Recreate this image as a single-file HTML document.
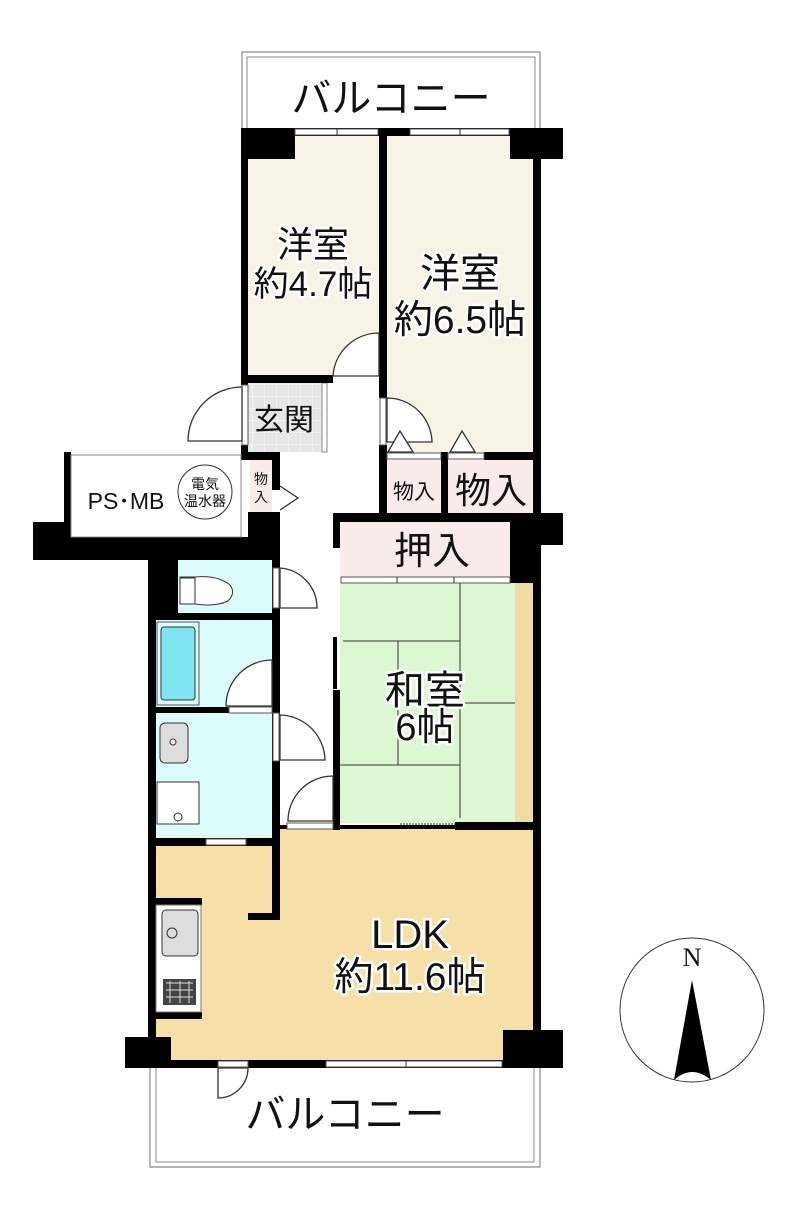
<!DOCTYPE html>
<html><head><meta charset="utf-8"><style>
html,body{margin:0;padding:0;background:#fff}
svg{display:block}
text{font-family:"Liberation Sans","Noto Sans CJK JP",sans-serif;fill:#111}
.l{paint-order:stroke;stroke:#fff;stroke-width:5px;stroke-linejoin:round}
</style></head><body>
<svg width="800" height="1220" viewBox="0 0 800 1220" xmlns="http://www.w3.org/2000/svg">
<defs>
<pattern id="tile" width="12" height="12" patternUnits="userSpaceOnUse"><rect width="12" height="12" fill="#e6e6e6"/><path d="M0 0H12M0 0V12" stroke="#fff" stroke-width="1"/></pattern>
</defs>
<rect x="242" y="52" width="298" height="80" fill="none" stroke="#888" stroke-width="1.2"/>
<rect x="247" y="57" width="288" height="75" fill="none" stroke="#888" stroke-width="1"/>
<text x="391" y="112" font-size="40" text-anchor="middle">バルコニー</text>
<rect x="248" y="136" width="131" height="240" fill="#f7f3e6"/>
<rect x="387" y="136" width="146" height="318" fill="#f7f3e6"/>
<rect x="248" y="383" width="74" height="69" fill="url(#tile)"/>
<rect x="322" y="383" width="5" height="69" fill="none" stroke="#888" stroke-width="1"/>
<rect x="250" y="460" width="22" height="52" fill="#fbecec"/>
<rect x="387" y="460" width="54" height="53" fill="#fbecec"/>
<rect x="448" y="460" width="85" height="53" fill="#fbecec"/>
<rect x="340" y="522" width="170" height="58" fill="#fbecec"/>
<rect x="340" y="583" width="175" height="240" fill="#dcf8d2"/>
<rect x="515" y="583" width="18" height="240" fill="#f0dba2"/>
<rect x="178" y="560" width="94" height="53" fill="#dcfcfc"/>
<rect x="156" y="620" width="116" height="87" fill="#dcfcfc"/>
<rect x="156" y="713" width="116" height="125" fill="#dcfcfc"/>
<rect x="156" y="845" width="377" height="195" fill="#f6e0a8"/>
<rect x="280" y="829" width="253" height="20" fill="#f6e0a8"/>
<rect x="171" y="1030" width="332" height="31" fill="#f6e0a8"/>
<g fill="#000">
<rect x="241" y="128" width="138" height="8"/>
<rect x="387" y="128" width="176" height="8"/>
<rect x="241" y="128" width="54" height="31"/>
<rect x="510" y="128" width="53" height="31"/>
<rect x="241" y="128" width="7" height="257"/>
<rect x="379" y="128" width="8" height="270"/>
<rect x="379" y="445" width="8" height="68"/>
<rect x="533" y="128" width="8" height="940"/>
<rect x="241" y="375" width="92" height="8"/>
<rect x="379" y="452" width="8" height="8"/>
<rect x="484" y="452" width="50" height="8"/>
<rect x="441" y="452" width="7" height="61"/>
<rect x="333" y="513" width="230" height="9"/>
<rect x="510" y="513" width="53" height="32"/>
<rect x="510" y="513" width="23" height="70"/>
<rect x="333" y="513" width="7" height="35"/>
<rect x="333" y="637" width="4" height="52"/>
<rect x="333" y="690" width="7" height="140"/>
<rect x="455" y="822" width="86" height="8"/>
<rect x="280" y="825" width="260" height="4"/>
<rect x="241" y="445" width="7" height="15"/>
<rect x="241" y="452" width="39" height="8"/>
<rect x="64" y="452" width="7" height="88"/>
<rect x="33" y="522" width="39" height="38"/>
<rect x="33" y="537" width="247" height="23"/>
<rect x="248" y="512" width="32" height="48"/>
<rect x="272" y="460" width="8" height="30"/>
<rect x="148" y="560" width="8" height="508"/>
<rect x="148" y="560" width="30" height="55"/>
<rect x="156" y="613" width="124" height="7"/>
<rect x="156" y="707" width="124" height="6"/>
<rect x="272" y="560" width="8" height="290"/>
<rect x="148" y="838" width="132" height="8"/>
<rect x="272" y="840" width="8" height="80"/>
<rect x="248" y="913" width="32" height="7"/>
<rect x="150" y="898" width="52" height="7"/>
<rect x="150" y="1012" width="52" height="7"/>
<rect x="125" y="1037" width="46" height="31"/>
<rect x="503" y="1030" width="60" height="38"/>
<rect x="125" y="1060" width="438" height="8"/>
</g>
<g fill="#fff" stroke="#555" stroke-width="1">
<rect x="295" y="129" width="83" height="6"/>
<rect x="410" y="129" width="99" height="6"/>
<rect x="326" y="1061" width="176" height="6"/>
<rect x="206" y="839" width="40" height="6"/>
<rect x="341" y="577" width="169" height="6"/>
<rect x="333" y="376" width="46" height="6" stroke="none"/>
<rect x="273" y="568" width="6" height="40"/>
<rect x="273" y="713" width="6" height="48"/>
<rect x="229" y="707" width="43" height="6"/>
<rect x="242" y="385" width="6" height="60"/>
<rect x="380" y="398" width="6" height="47"/>
<rect x="387" y="453" width="54" height="6"/>
<rect x="448" y="453" width="36" height="6"/>
<rect x="218" y="1061" width="30" height="6"/>
<rect x="287" y="823" width="46" height="6"/>
</g>
<g stroke="#333" stroke-width="1">
<path d="M337 129V135M460 129V135M406 1061V1068M397 577V583M454 577V583"/>
</g>
<g fill="#fff" stroke="#333" stroke-width="1.3">
<path d="M379 333 A46 46 0 0 0 333 376 H379 Z"/>
<path d="M242 387 A54 54 0 0 0 188 441 H242 Z"/>
<path d="M387 398 A45 45 0 0 1 432 442 H387 Z"/>
<path d="M280 568 A40 40 0 0 1 317 608 H280 Z"/>
<path d="M272 660 A46 46 0 0 0 226 706 H272 Z"/>
<path d="M280 715 A46 46 0 0 1 325 760 H280 Z"/>
<path d="M333 776 A45 45 0 0 0 288 821 H333 Z"/>
<path d="M218 1068 V1098 A30 30 0 0 0 248 1068 Z"/>
<path d="M280 486 L298 498 L280 510"/>
<path d="M388 452 L400 431 L413 452 Z"/>
<path d="M450 452 L462 431 L475 452 Z"/>
</g>
<rect x="161" y="627" width="34" height="73" rx="3" fill="#7fe6f0" stroke="#333"/>
<rect x="157" y="622" width="42" height="83" fill="none" stroke="#555"/>
<path d="M180 577 H195 Q218 575 230 585 Q236 593 228 601 Q215 607 195 604 H180 Z" fill="#fff" stroke="#333"/>
<rect x="180" y="578" width="15" height="26" fill="#fff" stroke="#333"/>
<rect x="160" y="723" width="28" height="40" rx="5" fill="#ddd" stroke="#333"/>
<circle cx="173" cy="742" r="3" fill="#fff" stroke="#333"/>
<rect x="157" y="782" width="42" height="42" fill="#fff" stroke="#333"/>
<circle cx="178" cy="817" r="4" fill="#fff" stroke="#333"/>
<rect x="156" y="905" width="45" height="107" fill="#fff" stroke="#777"/>
<rect x="162" y="910" width="36" height="46" rx="4" fill="#ddd" stroke="#333"/>
<circle cx="172" cy="933" r="5" fill="none" stroke="#333"/>
<rect x="163" y="979" width="33" height="26" fill="#444"/>
<path d="M166 983H193M166 990H193M166 997H193M170 981V1003M180 981V1003M189 981V1003" stroke="#ddd" stroke-width="1"/>
<g stroke="#333" stroke-width="1" fill="none">
<path d="M460 583V818M343 641H460M398 641V765M340 765H460M460 703H515"/>
<path d="M400 824H455" stroke-dasharray="2 1"/>
</g>
<rect x="71" y="455" width="170" height="82" fill="#fff" stroke="#888"/>
<circle cx="205" cy="492" r="27" fill="#fff" stroke="#333"/>
<path d="M150 1068V1167H540V1068" fill="none" stroke="#888" stroke-width="1.2"/>
<path d="M156 1068V1162H534V1068" fill="none" stroke="#888" stroke-width="1"/>
<text x="313" y="257" font-size="36" text-anchor="middle" class="l">洋室</text>
<text x="313" y="296" font-size="35" text-anchor="middle" class="l">約4.7帖</text>
<text x="460" y="287" font-size="40" text-anchor="middle" class="l">洋室</text>
<text x="460" y="333" font-size="39" text-anchor="middle" class="l">約6.5帖</text>
<text x="284" y="430" font-size="30" text-anchor="middle">玄関</text>
<text x="261" y="484" font-size="14" text-anchor="middle">物</text>
<text x="261" y="502" font-size="14" text-anchor="middle">入</text>
<text x="414" y="499" font-size="21" text-anchor="middle">物入</text>
<text x="491" y="503" font-size="36" text-anchor="middle">物入</text>
<text x="432" y="564" font-size="38" text-anchor="middle">押入</text>
<text x="425" y="704" font-size="40" text-anchor="middle" class="l">和室</text>
<text x="425" y="740" font-size="38" text-anchor="middle" class="l">6帖</text>
<text x="410" y="948" font-size="40" text-anchor="middle" class="l">LDK</text>
<text x="410" y="990" font-size="39" text-anchor="middle" class="l">約11.6帖</text>
<text x="345" y="1128" font-size="40" text-anchor="middle">バルコニー</text>
<text x="126" y="509" font-size="23" text-anchor="middle">PS･MB</text>
<text x="205" y="489" font-size="14" text-anchor="middle">電気</text>
<text x="205" y="506" font-size="14" text-anchor="middle">温水器</text>
<circle cx="692" cy="1010" r="72" fill="#fff" stroke="#333" stroke-width="1"/>
<text x="692" y="966" font-size="26" text-anchor="middle" style="font-family:'Liberation Serif',serif">N</text>
<path d="M692 980 L674 1080 Q692 1064 711 1080 Z" fill="#000"/>
</svg>
</body></html>
